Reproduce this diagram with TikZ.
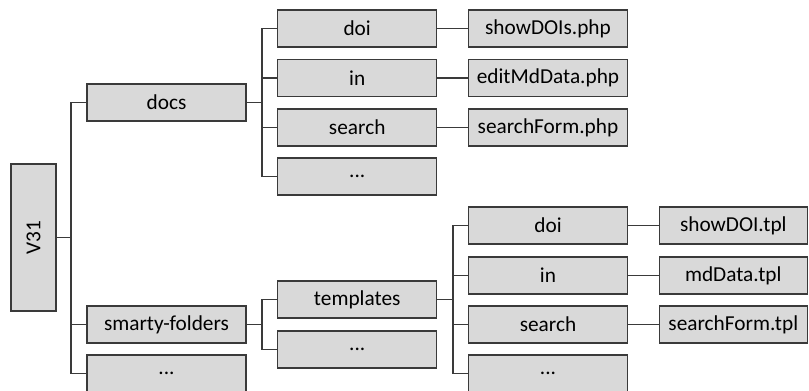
\documentclass[tikz,border=0pt]{standalone}
\usepackage{fontspec}
\setmainfont{Carlito}
\definecolor{boxfill}{HTML}{D9D9D9}
\definecolor{edge}{HTML}{3A3A3A}
\begin{document}
\begin{tikzpicture}[x=1pt,y=-1pt,
  box/.style={draw=edge, fill=boxfill, line width=1.5pt, inner sep=0pt,
    minimum height=37pt, minimum width=159pt, font=\fontsize{21.3}{25}\selectfont},
  fbox/.style={box, minimum width=148pt},
  conn/.style={draw=edge, line width=1.6pt}]
\useasboundingbox (0,0) rectangle (809,391);
% level 0
\node[box, minimum width=147pt, minimum height=45pt, rotate=90] (V31) at (33.5,237.5) {V31};
% level 1
\node[box] (docs) at (166.5,102.5) {docs};
\node[box] (smarty) at (166.5,324.5) {smarty-folders};
\node[box] (dotsA) at (166.5,373.5) {...};
% docs children
\node[box] (doiA) at (357.2,28.5) {doi};
\node[box] (inA) at (357.2,78) {in};
\node[box] (searchA) at (357.2,127.5) {search};
\node[box] (dotsB) at (357.2,176.5) {...};
\node[box] (fA1) at (548,28.5) {showDOIs.php};
\node[box] (fA2) at (548,78) {editMdData.php};
\node[box] (fA3) at (548,127.5) {searchForm.php};
% smarty children
\node[box] (templates) at (357.2,299.5) {templates};
\node[box] (dotsC) at (357.2,349.5) {...};
% templates children
\node[box] (doiB) at (548,225.5) {doi};
\node[box] (inB) at (548,275.5) {in};
\node[box] (searchB) at (548,324.5) {search};
\node[box] (dotsD) at (548,373.5) {...};
\node[fbox] (fB1) at (733.3,225.5) {showDOI.tpl};
\node[fbox] (fB2) at (733.3,275.5) {mdData.tpl};
\node[fbox] (fB3) at (733.3,324.5) {searchForm.tpl};
% trunk coordinates
\coordinate (t0) at (71,0);
\coordinate (t1) at (262,0);
\coordinate (t2) at (452.7,0);
% connectors
\foreach \c in {docs,smarty,dotsA}
  \draw[conn] (V31.south) -- (t0 |- V31.south) |- (\c.west);
\foreach \c in {doiA,inA,searchA,dotsB}
  \draw[conn] (docs.east) -- (t1 |- docs.east) |- (\c.west);
\foreach \c in {templates,dotsC}
  \draw[conn] (smarty.east) -- (t1 |- smarty.east) |- (\c.west);
\foreach \c in {doiB,inB,searchB,dotsD}
  \draw[conn] (templates.east) -- (t2 |- templates.east) |- (\c.west);
\draw[conn] (doiA.east) -- (fA1.west);
\draw[conn] (inA.east) -- (fA2.west);
\draw[conn] (searchA.east) -- (fA3.west);
\draw[conn] (doiB.east) -- (fB1.west);
\draw[conn] (inB.east) -- (fB2.west);
\draw[conn] (searchB.east) -- (fB3.west);
\end{tikzpicture}
\end{document}
